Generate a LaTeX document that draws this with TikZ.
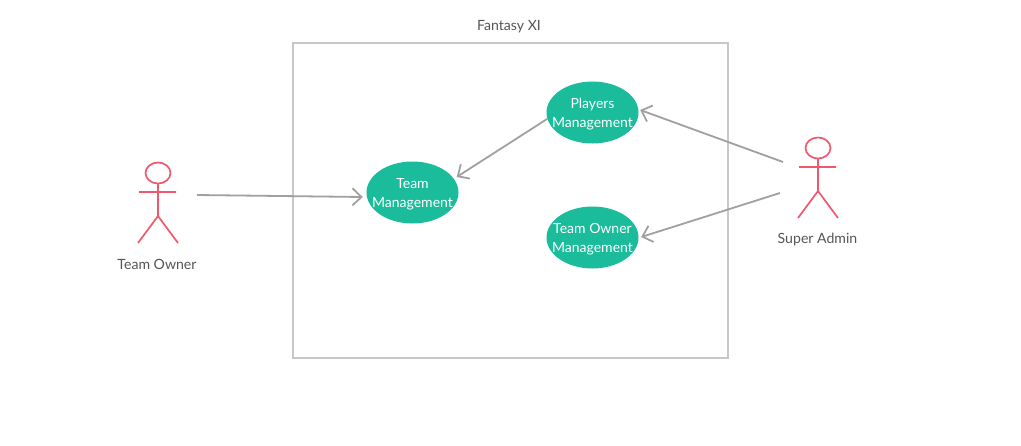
\documentclass[tikz,border=0pt]{standalone}
\usepackage{fontspec}
\setmainfont{Lato}
\usetikzlibrary{arrows.meta,shapes.geometric}
\definecolor{teal}{HTML}{1ABC9C}
\definecolor{gline}{HTML}{A0A0A0}
\definecolor{frame}{HTML}{C8C8C8}
\definecolor{actor}{HTML}{F0596C}
\definecolor{txt}{HTML}{555555}
\tikzset{
 x=1pt,y=-1pt,
 uc/.style={ellipse,fill=teal,minimum width=92pt,minimum height=62pt,inner sep=0pt,
   label={[text=white,align=center,inner sep=0pt,yshift=-1.5pt,font=\fontsize{14}{19}\selectfont]center:#1}},
 lbl/.style={text=txt,font=\fontsize{14.1}{17}\selectfont,inner sep=0pt},
 conn/.style={draw=gline,line width=1.8pt,-{Straight Barb[length=9pt,width=17pt,line width=1.8pt]}},
 stick/.style={draw=actor,line width=1.7pt},
}
\begin{document}
\begin{tikzpicture}
\useasboundingbox (0,0) rectangle (1021,445);
\node[draw=frame,line width=1.7pt,minimum width=435pt,minimum height=315pt,inner sep=0pt] (sys) at (510.5,200.5) {};
\node[lbl] (title) at (509,26.5) {Fantasy XI};
\node[uc={Team\\Management}] (team) at (412.5,192.5) {};
\node[uc={Players\\Management}] (players) at (592.5,112.5) {};
\node[uc={Team Owner\\Management}] (owner) at (592.5,237.5) {};
% Team Owner actor
\draw[stick] (158,173) circle [x radius=12.5pt,y radius=10.5pt];
\draw[stick] (158,183.5) -- (158,216) (139,192) -- (176,192) (138,243) -- (158,216) -- (178,243);
\node[lbl] (ownerlbl) at (157,264.5) {Team Owner};
\coordinate (ownerhand) at (197,195);
\coordinate (teamin) at ([shift={(-3.5,4.5)}]team.west);
\coordinate (teamout) at ([shift={(-2,-15.5)}]team.east);
\coordinate (playersin) at ([shift={(1.5,-2.5)}]players.east);
\coordinate (ownerin) at ([shift={(2.5,-0.5)}]owner.east);
% Super Admin actor
\draw[stick] (818,148) circle [x radius=12.5pt,y radius=10.5pt];
\draw[stick] (818,158.5) -- (818,191) (799,167) -- (836,167) (798,218) -- (818,191) -- (838,218);
\node[lbl] (adminlbl) at (817.5,240) {Super Admin};
\coordinate (adminA) at (783,162);
\coordinate (adminB) at (780,193);
\draw[conn] (ownerhand) -- (teamin);
\draw[conn] (players.188) -- (teamout);
\draw[conn] (adminA) -- (playersin);
\draw[conn] (adminB) -- (ownerin);
\end{tikzpicture}
\end{document}
